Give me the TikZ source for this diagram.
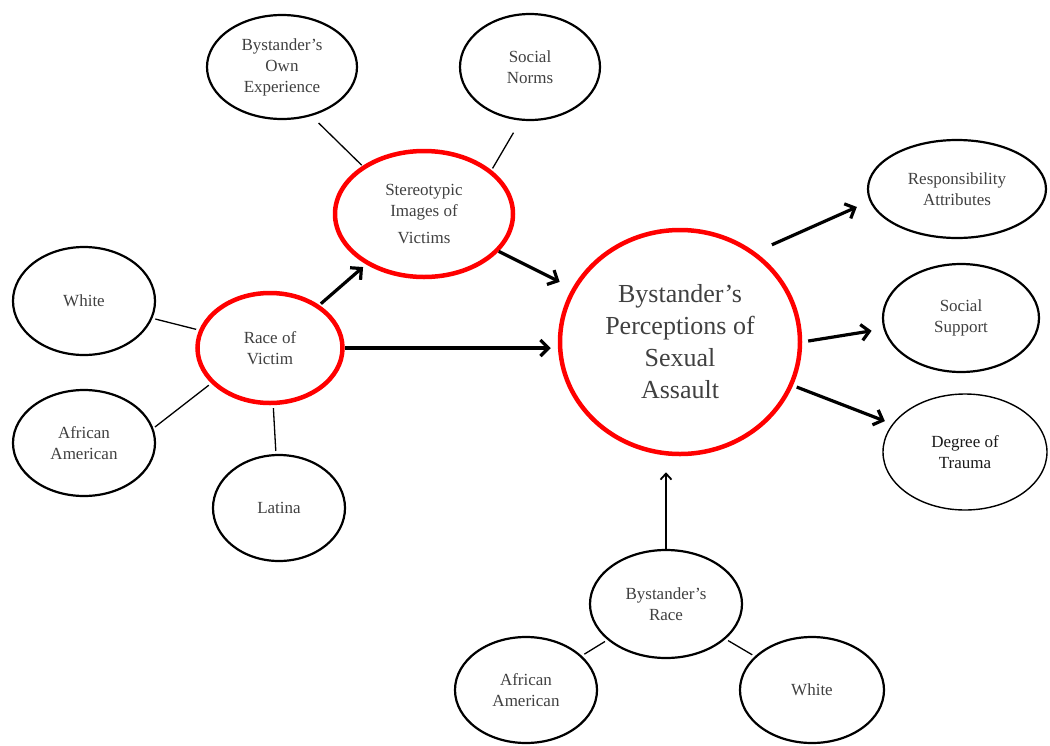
\documentclass[tikz,border=0pt]{standalone}
\usepackage{fontspec}
\setmainfont{Liberation Serif}
\usetikzlibrary{shapes.geometric,arrows.meta}
\tikzset{
  bubble/.style={ellipse,draw,line width=2.2pt,inner sep=0pt,align=center,
    text=black!75,font=\fontsize{17}{21}\selectfont},
  focus/.style={bubble,draw=red,line width=4.5pt},
  link/.style={line width=1.3pt,shorten <=3pt,shorten >=3pt},
  effect/.style={line width=3.2pt,-{Straight Barb[length=8pt,width=16pt]}}
}
\begin{document}
\begin{tikzpicture}[x=1pt,y=-1pt]
\useasboundingbox (0,0) rectangle (1050,745);
% central construct
\node[focus,minimum width=240pt,minimum height=224pt,font=\fontsize{26}{32}\selectfont]
  (percep) at (680,342) {Bystander's\\Perceptions of\\Sexual\\Assault};
% mediator and its sources
\node[focus,minimum width=178pt,minimum height=126pt] (stereo) at (424,214)
  {Stereotypic\\Images of\\[6pt]Victims};
\node[bubble,minimum width=150pt,minimum height=104pt] (ownexp) at (282,67)
  {Bystander's\\Own\\Experience};
\node[bubble,minimum width=140pt,minimum height=106pt] (norms) at (530,67)
  {Social\\Norms};
% victim race
\node[focus,minimum width=145pt,minimum height=110pt] (vrace) at (270,348)
  {Race of\\Victim};
\node[bubble,minimum width=142pt,minimum height=108pt] (vwhite) at (84,301) {White};
\node[bubble,minimum width=142pt,minimum height=106pt] (vafam) at (84,443)
  {African\\American};
\node[bubble,minimum width=132pt,minimum height=106pt] (vlatina) at (279,508) {Latina};
% outcomes
\node[bubble,minimum width=178pt,minimum height=98pt] (resp) at (957,189)
  {Responsibility\\Attributes};
\node[bubble,minimum width=156pt,minimum height=108pt] (support) at (961,318)
  {Social\\Support};
\node[bubble,line width=1.4pt,minimum width=164pt,minimum height=116pt,text=black!90] (trauma) at (965,452)
  {Degree of\\Trauma};
% bystander race
\node[bubble,minimum width=152pt,minimum height=108pt] (brace) at (666,604)
  {Bystander's\\Race};
\node[bubble,minimum width=142pt,minimum height=106pt] (bafam) at (526,690)
  {African\\American};
\node[bubble,minimum width=144pt,minimum height=106pt] (bwhite) at (812,690) {White};
% links
\draw[link,shorten <=10pt,shorten >=1pt] (ownexp.-59) -- (stereo.142);
\draw[link,shorten <=14pt,shorten >=2pt] (norms.-100) -- (stereo.33);
\draw[link] (vwhite) -- (vrace);
\draw[link,shorten <=2pt] (vafam.12) -- (vrace.211);
\draw[link] (vlatina) -- (vrace);
\draw[link] (bafam) -- (brace);
\draw[link] (bwhite) -- (brace);
% effects
\draw[effect,shorten <=2pt,shorten >=4pt] (vrace) -- (stereo);
\draw[effect,shorten >=7pt] (vrace.east) -- (percep.west |- vrace.east);
\draw[effect,shorten >=14pt] (stereo) -- (percep);
\draw[effect,shorten <=18pt,shorten >=14pt] (percep.50) -- (resp.188);
\draw[effect,shorten <=6pt,shorten >=12pt] (percep.east) -- (support.188);
\draw[effect,shorten <=4pt,shorten >=8pt] (percep) -- (trauma);
\draw[line width=1.8pt,-{Straight Barb[length=6pt,width=11pt]},shorten >=16pt]
  (brace.north) -- (brace.north |- percep.south);
\end{tikzpicture}
\end{document}
